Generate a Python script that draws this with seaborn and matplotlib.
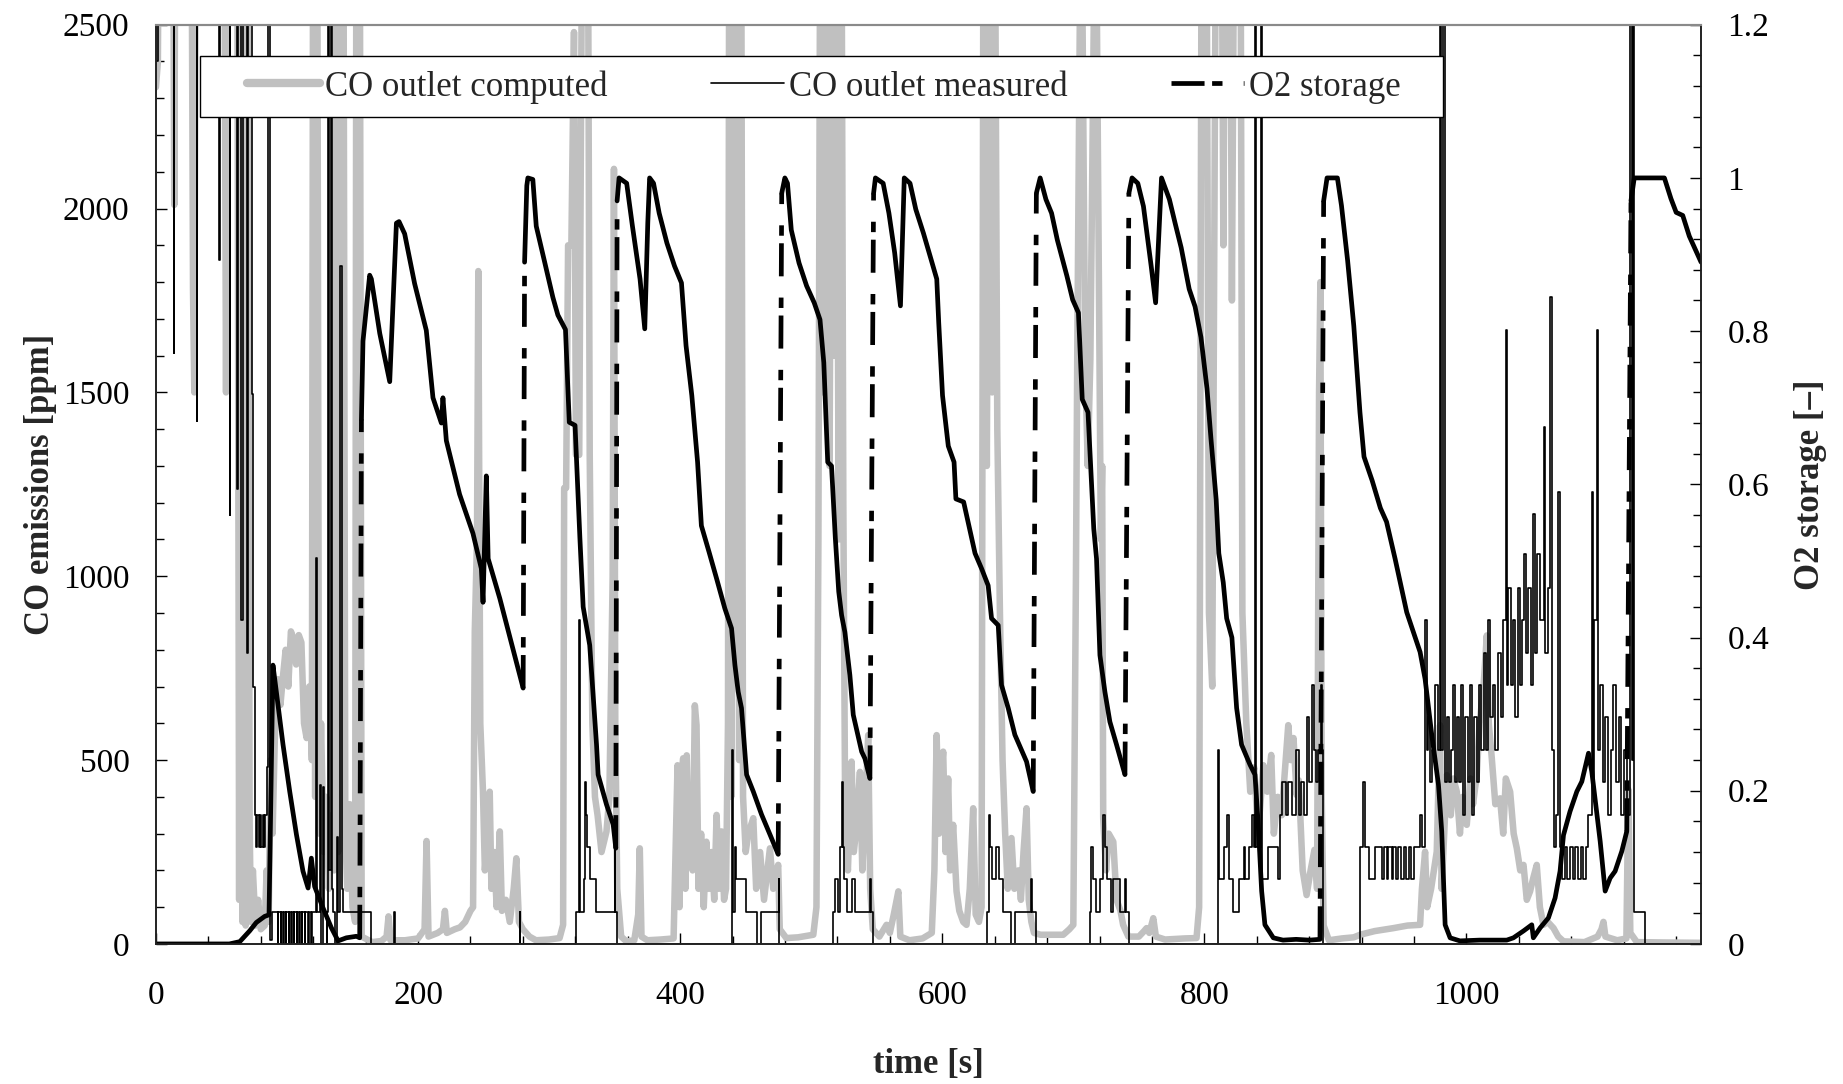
import matplotlib
matplotlib.use("Agg")
import matplotlib.pyplot as plt
from matplotlib.lines import Line2D
from matplotlib.patches import Rectangle
from matplotlib.ticker import MultipleLocator, FuncFormatter
import pandas as pd
import seaborn as sns

# ---------------- data (time [s], value) ----------------
# CO outlet computed [ppm]  (values above 2500 are off-scale)
co_computed = [
    (0, 2330), (1.5, 2400), (2.5, 3000), (13, 3000), (14, 2010), (15, 3000), (27, 3000), (28.3, 1780),
    (29.3, 1500), (30.5, 3000), (52, 3000), (53.5, 1500), (55, 3000), (62, 3000), (63.5, 120), (64.5, 3000),
    (66, 60), (67, 3000), (68.5, 50), (70, 3000), (71.5, 330), (72.5, 60), (74, 200), (76, 50), (78, 120),
    (80, 40), (83, 50), (84.5, 200), (86, 60), (87.5, 500), (89, 300), (91, 600), (93, 720), (95, 650),
    (97, 730), (99, 800), (101, 700), (103, 850), (105, 830), (107, 760), (109, 840), (111, 820), (113, 600),
    (115, 560), (117, 700), (119, 500), (120, 3000), (121.5, 400), (123, 3000), (124.5, 300), (126, 600),
    (128, 250), (130, 400), (132, 150), (134, 350), (136, 200), (137.5, 3000), (139, 250), (141, 3000),
    (143, 3000), (144.5, 300), (146, 150), (148, 380), (150, 100), (152, 60), (153, 3000), (155.5, 3000),
    (157, 20), (165, 5), (172, 8), (176, 20), (177.5, 75), (179, 10), (190, 10), (200, 15), (205, 40),
    (206.5, 280), (208, 20), (215, 30), (219, 40), (220.5, 90), (222, 30), (228, 40), (232, 45), (236, 60),
    (240, 90), (242, 100), (243.3, 850), (245, 1100), (246, 1830), (247.5, 600), (249.5, 420), (251, 200),
    (253, 300), (254.7, 414), (256, 150), (258, 250), (260, 100), (262.4, 306), (264, 90), (267, 120),
    (270, 60), (273, 150), (275, 233), (277, 60), (280, 40), (285, 20), (290, 10), (300, 12), (308, 16),
    (310.7, 52), (311.5, 1240), (313, 1240), (314.5, 1900), (317, 1900), (319, 2480), (320.5, 1330),
    (323, 1330), (325.5, 3000), (329.5, 3000), (331, 1330), (333, 600), (335, 400), (337, 350),
    (340, 250), (343.8, 306), (346, 400), (348.5, 1000), (349.5, 2108), (350.5, 600), (352, 150), (355, 20),
    (359, 7), (365, 10), (368, 80), (369.2, 260), (370.5, 20), (375, 10), (385, 12), (395, 15), (398, 486),
    (399.5, 100), (401, 450), (402.3, 505), (404, 150), (405, 513), (406.5, 250), (408, 400), (409.5, 200),
    (411.2, 649), (412.5, 595), (414, 150), (416, 300), (418, 100), (420, 278), (422, 150), (424, 250),
    (426, 120), (427.8, 351), (429.5, 150), (431.6, 306), (433.5, 120), (435, 150), (436.5, 600),
    (437.5, 3000), (439, 400), (440.5, 3000), (442, 800), (443.5, 3000), (445, 500), (446.5, 3000),
    (448, 400), (450, 250), (452, 300), (455.8, 342), (458, 150), (461, 250), (464, 120), (468.5, 260),
    (471, 150), (474.8, 215), (476, 40), (481, 16), (490, 18), (501.6, 25), (504, 100), (505.5, 1100),
    (507, 3000), (509, 1500), (510.5, 3000), (512, 1800), (514, 1300), (516, 3000), (517.5, 1600),
    (519, 3000), (521, 1100), (523, 3000), (524.5, 1200), (526, 300), (528, 200), (530.8, 496), (532.5, 250),
    (534, 300), (537.2, 468), (539, 200), (541, 350), (543.5, 568), (545, 150), (547, 40), (552, 20),
    (557.5, 52), (560, 30), (563, 80), (566.5, 143), (568, 20), (575, 10), (585, 15), (592, 30), (594, 200),
    (595.7, 568), (597.5, 300), (599, 450), (600.7, 523), (602.5, 250), (604.5, 450), (606, 200),
    (608.3, 324), (610.9, 143), (613, 90), (616, 60), (618.5, 52), (621, 150), (623.6, 369), (625.5, 80),
    (628, 60), (630, 100), (631.5, 3000), (634, 1300), (636, 3000), (638, 1500), (640, 3000), (642, 1400),
    (644, 900), (646, 500), (648, 300), (650, 150), (652.8, 288), (655, 150), (658, 200), (660, 120),
    (662, 250), (664.3, 369), (666, 120), (668, 60), (670, 30), (675, 25), (685, 25), (692.3, 25), (697, 40),
    (700, 52), (702, 1000), (703, 1600), (706, 3000), (709, 1590), (711, 1300), (713, 1590), (717, 3000),
    (720, 1550), (721, 1100), (722, 1300), (722.8, 342), (725, 200), (727, 300), (730.5, 278),
    (733, 120), (736, 90), (738, 52), (742, 20), (750, 20), (754, 35), (755.9, 43), (758, 30), (761, 70),
    (763, 20), (770, 12), (785, 15), (794, 16), (796, 100), (798, 3000), (801.5, 3000), (803.5, 900),
    (806, 700), (809, 3000), (813, 3000), (814.5, 1900), (816, 3000), (819.5, 3000), (821, 1750),
    (823, 3000), (827.5, 3000), (829, 900), (832, 600), (835, 414), (838, 480),
    (841, 300), (845, 486), (848, 414), (851, 514), (853, 300), (856, 400), (859, 350), (861, 450),
    (864, 595), (866, 500), (868, 560), (870.4, 405), (872, 445), (875, 200), (878, 133), (881, 199),
    (884, 256), (886, 150), (887.5, 1500), (888.5, 1800), (889.5, 400), (891, 50), (895, 10), (905, 15),
    (914, 18), (918.8, 25), (930, 35), (944.2, 43), (955, 50), (964.6, 52), (966, 150), (968.4, 251),
    (970, 100), (973, 150), (977.3, 251), (979.8, 595), (981, 150), (983, 300), (985, 459), (988, 350),
    (990, 450), (992.6, 414), (995, 300), (997, 400), (1000.2, 324), (1003, 450), (1005, 380), (1007.8, 459),
    (1010, 600), (1013, 700), (1015.5, 839), (1017, 600), (1019.3, 505), (1022, 380), (1025.6, 396),
    (1028, 300), (1030, 450), (1033.3, 414), (1036, 300), (1038.4, 260), (1041, 200), (1043.5, 215),
    (1046, 120), (1048.5, 143), (1051, 180), (1053.6, 215), (1056, 100), (1058.7, 52), (1062, 60),
    (1066.4, 43), (1070, 20), (1074, 7), (1090, 5), (1100, 20), (1103, 40), (1104.5, 60), (1106, 20),
    (1115, 10), (1122, 15), (1123.5, 420), (1125, 30), (1130, 5), (1150, 4), (1179, 3),
]

# CO outlet measured [ppm]  (analyser resolution ~88 ppm, stepped signal)
co_measured = [
    (0, 2400), (1.5, 3000), (13, 3000), (13.5, 1608), (14, 3000), (30.5, 3000), (31, 1422), (31.5, 3000),
    (48, 3000), (48.4, 1860), (48.8, 3000), (56, 3000), (56.4, 1167), (56.8, 3000), (60.5, 3000),
    (61.5, 1238), (62.3, 3000), (64.3, 3000), (65.1, 880), (66.3, 3000), (68.5, 3000), (69.5, 790),
    (70.5, 3000), (72.2, 3000), (73, 1495), (74.2, 700), (75.5, 352), (76.5, 264), (77.5, 352), (78.5, 264),
    (79.5, 352), (80.5, 264), (81.5, 352), (82.5, 264), (83.5, 352), (84.5, 480), (85.3, 3000), (86.5, 3000),
    (87.2, 10), (88.2, 88), (93.0, 88), (93.25, 0), (93.5, 88), (95.0, 88), (95.25, 0), (95.5, 88),
    (97.0, 88), (97.25, 0), (97.5, 88), (99.0, 88), (99.25, 0), (99.5, 88), (101.0, 88), (101.25, 0),
    (101.5, 88), (103.0, 88), (103.25, 0), (103.5, 88), (105.0, 88), (105.25, 0), (105.5, 88), (107.2, 88),
    (107.45, 0), (107.7, 88), (109.2, 88), (109.45, 0), (109.7, 88), (111.2, 88), (111.45, 0), (111.7, 88),
    (113.5, 88), (113.75, 0), (114, 88), (116, 88), (116.25, 0), (116.5, 88), (118.3, 88), (118.55, 0),
    (118.8, 88), (121.5, 88), (122.5, 1050), (123.2, 88), (124.3, 88), (125, 432), (125.7, 88), (126.3, 0),
    (127.3, 428), (128, 88), (129.5, 88), (130.2, 0), (130.8, 88), (131.4, 3000), (132, 200), (133.4, 3000),
    (134, 150), (135, 88), (136.3, 0), (137.9, 292), (139, 88), (139.8, 88), (140.8, 1845), (141.8, 150),
    (142.5, 88), (163.6, 88), (164, 0), (181.5, 0), (181.8, 88), (182.2, 0), (277.3, 0), (277.6, 88),
    (278, 0), (320.6, 0), (320.9, 88), (322.5, 88), (322.9, 880), (323.3, 88), (326, 88), (326.5, 176),
    (327.3, 440), (328, 352), (329, 264), (331, 264), (331.5, 176), (335.5, 176), (336, 88), (349.8, 88),
    (350.2, 264), (350.6, 88), (351.8, 88), (352.1, 0), (439, 0), (439.5, 528), (440.5, 88), (441.5, 264),
    (442.3, 176), (449.5, 176), (450, 88), (458.5, 88), (458.8, 0), (461.5, 0), (461.8, 88), (475, 88),
    (475.4, 176), (475.8, 0), (516.5, 0), (516.8, 88), (517.8, 176), (520, 176), (520.5, 88), (521.8, 264),
    (523.2, 440), (524, 264), (525, 176), (527, 176), (527.5, 88), (531, 88), (531.5, 176), (533, 176),
    (533.5, 88), (544, 88), (544.5, 176), (545.5, 88), (547, 88), (547.3, 0), (633.5, 0), (633.8, 88),
    (635.5, 352), (636.5, 264), (638, 176), (641, 264), (643, 176), (646.5, 88), (652, 88), (652.3, 0),
    (655, 0), (655.3, 88), (667.5, 88), (668, 176), (668.5, 88), (671.5, 88), (671.8, 0), (712.3, 0),
    (712.6, 88), (713.5, 264), (715, 176), (717, 88), (719.5, 88), (720, 176), (722.5, 176), (722.8, 352),
    (724, 264), (726, 176), (729, 88), (730.5, 176), (735, 176), (735.5, 88), (739, 88), (739.3, 176),
    (740, 88), (741.9, 88), (742.2, 0), (810.3, 0), (810.6, 528), (811.5, 176), (814, 176), (815, 264),
    (817, 352), (818.5, 176), (821, 176), (821.5, 88), (826, 88), (826.5, 176), (830, 264), (831, 176),
    (834, 264), (836, 352), (837.5, 264), (838.6, 3000), (839.5, 264), (843.3, 3000), (844, 176), (848, 176),
    (848.5, 264), (855, 264), (856, 176), (858, 352), (859.5, 440), (862, 352), (864, 440), (867, 352),
    (870, 528), (872, 352), (874, 440), (876, 352), (878, 616), (880, 440), (882, 704), (883.5, 528),
    (885, 440), (887, 528), (889, 704), (890, 528), (890.8, 0), (917, 0), (918.8, 264), (920, 264),
    (921.3, 440), (922.5, 264), (925, 264), (925.5, 176), (930, 176), (930.5, 264), (935, 264), (935.5, 176),
    (937, 264), (939, 176), (940, 264), (943, 176), (944, 264), (946, 176), (948, 264), (950, 176),
    (952, 264), (954, 176), (956, 264), (958, 176), (960, 264), (963, 264), (964.6, 352), (966, 264),
    (968.4, 880), (969.5, 528), (971, 616), (972.5, 440), (974, 528), (976, 704), (978, 528), (979.7, 3000),
    (980.5, 528), (982.2, 3000), (983.5, 440), (985, 616), (986.5, 440), (988, 528), (989.5, 704), (991, 440),
    (992.5, 616), (994, 440), (996, 704), (997.5, 352), (999, 616), (1001, 440), (1002.5, 704), (1004, 352),
    (1006, 616), (1008, 440), (1009.5, 704), (1011, 528), (1013, 792), (1015, 528), (1016.5, 880),
    (1018, 616), (1020, 704), (1022, 528), (1024, 792), (1026, 616), (1028, 880), (1029.8, 1670),
    (1030.7, 704), (1032, 968), (1034, 704), (1035.5, 880), (1037, 616), (1039, 968), (1040.5, 704),
    (1042, 880), (1044, 1060), (1045.5, 792), (1047, 968), (1049, 704), (1050.8, 1170), (1052, 792),
    (1054, 1060), (1056, 880), (1058.9, 1405), (1060, 792), (1062, 968), (1064, 1760), (1065.5, 528),
    (1067, 264), (1068, 352), (1069.9, 1230), (1071, 264), (1073, 176), (1075, 264), (1077, 176),
    (1079, 264), (1081, 176), (1083, 264), (1085, 176), (1087, 264), (1089, 176), (1091, 264), (1093, 352),
    (1095.5, 1230), (1096.5, 440), (1097.5, 880), (1099.6, 1670), (1100.5, 528), (1102, 704), (1104, 440),
    (1106, 616), (1108, 352), (1110, 528), (1112, 704), (1114, 440), (1116, 616), (1118, 352), (1120, 528),
    (1122.3, 352), (1124.3, 352), (1124.8, 3000), (1126, 500), (1127.2, 3000), (1127.8, 88), (1136, 88),
    (1136.3, 0), (1179, 0),
]

# O2 storage [-]
o2_storage = [
    (0, 0), (20, 0), (40, 0), (56, 0), (64, 0.003), (71.5, 0.017), (76.6, 0.028), (83, 0.036),
    (86.3, 0.038), (89.3, 0.364), (91.9, 0.329), (97, 0.26), (102.1, 0.199), (107.2, 0.143), (112.2, 0.095),
    (116.1, 0.073), (118.6, 0.112), (121.1, 0.075), (127.5, 0.047), (133.9, 0.021), (139, 0.004),
    (145.3, 0.008), (153, 0.01), (155.5, 0.008), (156.8, 0.685), (158, 0.787), (163.1, 0.873),
    (164.4, 0.868), (170.8, 0.797), (178.4, 0.734), (183.5, 0.941), (185.5, 0.943), (189.8, 0.927),
    (197.4, 0.862), (206.3, 0.801), (211.4, 0.713), (217.8, 0.68), (219, 0.713), (221.6, 0.657),
    (231.7, 0.587), (241.9, 0.536), (248.3, 0.49), (249.6, 0.446), (252.1, 0.611), (253.5, 0.503),
    (262.4, 0.451), (280.2, 0.334), (281.3, 0.89), (283, 0.99), (283.8, 1.0), (287.6, 0.998), (290.2, 0.937),
    (296.5, 0.891), (302.9, 0.844), (306.7, 0.821), (312.5, 0.802), (315.4, 0.681), (319.8, 0.677),
    (323.5, 0.53), (326, 0.44), (331, 0.39), (336.2, 0.26), (337.4, 0.221), (343.8, 0.182), (348.9, 0.156),
    (350.9, 0.125), (351.9, 0.97), (353.4, 1.0), (359.2, 0.993), (363.6, 0.937), (369.4, 0.868), (373, 0.803),
    (375.3, 0.941), (376.7, 1.0), (379.7, 0.993), (384, 0.954), (389.9, 0.915), (395.7, 0.885), (401, 0.863),
    (404.5, 0.781), (408.9, 0.716), (413.3, 0.629), (416.2, 0.546), (422, 0.512), (427.8, 0.477),
    (434.1, 0.438), (439.2, 0.412), (441.8, 0.364), (444.3, 0.329), (446.8, 0.308), (450.7, 0.221),
    (455.8, 0.199), (462.1, 0.169), (468.5, 0.143), (474.8, 0.117), (477.5, 0.98), (479.9, 1.0),
    (481.9, 0.993), (484.8, 0.932), (490.7, 0.889), (496.5, 0.859), (502.3, 0.837), (506.7, 0.815),
    (509.6, 0.759), (512.6, 0.629), (515.5, 0.624), (518.4, 0.53), (521, 0.46), (523.2, 0.429),
    (525.7, 0.407), (529.5, 0.351), (532.1, 0.299), (538.5, 0.251), (541, 0.242), (544.8, 0.216),
    (547.6, 0.98), (549, 1.0), (554.9, 0.993), (559.3, 0.954), (563.7, 0.902), (568.1, 0.833), (571, 1.0),
    (575.4, 0.993), (579.8, 0.959), (585.6, 0.928), (591.4, 0.894), (595.8, 0.868), (597.3, 0.811),
    (600.2, 0.716), (604.6, 0.65), (609, 0.629), (610.4, 0.581), (616.3, 0.577), (625, 0.51), (630, 0.49),
    (635, 0.468), (637.6, 0.425), (642.7, 0.416), (645.2, 0.338), (650.3, 0.308), (655.4, 0.273),
    (664.3, 0.238), (669.4, 0.199), (671.8, 0.98), (674.7, 1.0), (679.1, 0.972), (683.4, 0.954),
    (687.8, 0.919), (695.1, 0.872), (699.5, 0.841), (703.9, 0.824), (706.8, 0.711), (711.2, 0.694),
    (715.6, 0.542), (717.7, 0.503), (720.3, 0.377), (724.1, 0.329), (727.9, 0.29), (733, 0.26),
    (739.4, 0.221), (742.4, 0.98), (744.8, 1.0), (749.2, 0.993), (753.5, 0.963), (759.4, 0.885),
    (762.8, 0.837), (767.3, 1.0), (773.3, 0.972), (777.8, 0.94), (782.3, 0.909), (788.4, 0.855),
    (792.9, 0.832), (797.4, 0.792), (802, 0.725), (805, 0.66), (809, 0.58), (811, 0.51), (814.4, 0.472),
    (817, 0.425), (821, 0.4), (824.6, 0.308), (828.4, 0.26), (834.8, 0.234), (838.6, 0.221), (841.1, 0.156),
    (843.7, 0.069), (846.2, 0.025), (852.6, 0.008), (860, 0.005), (870, 0.006), (880, 0.005), (888.2, 0.006),
    (891, 0.97), (893.6, 1.0), (901.5, 1.0), (904.6, 0.964), (909.3, 0.892), (914, 0.807), (918.7, 0.694),
    (921.8, 0.636), (928, 0.605), (934.3, 0.569), (939, 0.551), (945.5, 0.503), (954.4, 0.433),
    (964.6, 0.381), (968.4, 0.346), (973.5, 0.273), (978.6, 0.208), (981.1, 0.147), (983.7, 0.025),
    (987.5, 0.008), (995, 0.004), (1010, 0.005), (1030.7, 0.005), (1035.8, 0.008), (1043.5, 0.017),
    (1049.8, 0.025), (1051, 0.008), (1056.2, 0.021), (1062.5, 0.034), (1067.6, 0.06), (1071.4, 0.095),
    (1074, 0.142), (1079, 0.173), (1084.2, 0.199), (1088, 0.212), (1093.1, 0.249), (1095.6, 0.225),
    (1102, 0.134), (1105.8, 0.069), (1109.6, 0.086), (1113.4, 0.095), (1118.5, 0.121), (1122.3, 0.147),
    (1125.5, 0.97), (1128, 1.0), (1140, 1.0), (1151, 1.0), (1156, 0.973), (1160, 0.955), (1165, 0.951),
    (1170, 0.924), (1179, 0.89),
]

legend_labels = ["CO outlet computed", "CO outlet measured", "O2 storage"]

# ---------------- styling ----------------
GRAY = "#C0C0C0"
DASHDOT = (7, 1.6, 2.2, 4.5)

sns.set_theme(style="white")
plt.rcParams["font.family"] = ["Liberation Serif", "DejaVu Serif"]

fig = plt.figure(figsize=(18.43, 10.84), dpi=100)
ax = fig.add_axes([0.0846, 0.1292, 0.923 - 0.0846, 0.9772 - 0.1292])
ax2 = ax.twinx()

comp_df = pd.DataFrame(co_computed, columns=["t", "v"])
meas_df = pd.DataFrame(co_measured, columns=["t", "v"])
o2_df = pd.DataFrame(o2_storage, columns=["t", "v"])

sns.lineplot(data=comp_df, x="t", y="v", ax=ax, color=GRAY, linewidth=4.7,
             estimator=None, sort=False, solid_joinstyle="round")
sns.lineplot(data=meas_df, x="t", y="v", ax=ax, color="black", linewidth=1.2,
             estimator=None, sort=False, drawstyle="steps-post")

# O2 storage: smooth parts solid, sudden regeneration jumps dash-dot (as in the original)
rows = []
vals = o2_df["v"].tolist()
ts = o2_df["t"].tolist()
piece = 0
start = 0
for i in range(len(vals) - 1):
    if vals[i + 1] - vals[i] > 0.4:
        for k in range(start, i + 1):
            rows.append((ts[k], vals[k], f"c{piece}", "curve"))
        rows.append((ts[i], vals[i], f"j{i}", "jump"))
        rows.append((ts[i + 1], vals[i + 1], f"j{i}", "jump"))
        piece += 1
        start = i + 1
for k in range(start, len(vals)):
    rows.append((ts[k], vals[k], f"c{piece}", "curve"))
seg_df = pd.DataFrame(rows, columns=["t", "v", "unit", "kind"])
sns.lineplot(data=seg_df, x="t", y="v", units="unit", style="kind",
             dashes={"curve": "", "jump": DASHDOT}, estimator=None, sort=False,
             color="black", linewidth=3.4, legend=False, ax=ax2)

# ---------------- axes ----------------
ax.set_xlim(0, 1179)
ax.set_ylim(0, 2500)
ax2.set_ylim(0, 1.2)
ax.xaxis.set_major_locator(MultipleLocator(200))
ax.xaxis.set_minor_locator(MultipleLocator(40))
ax.yaxis.set_major_locator(MultipleLocator(500))
ax.yaxis.set_minor_locator(MultipleLocator(100))
ax2.yaxis.set_major_locator(MultipleLocator(0.2))
ax2.yaxis.set_minor_locator(MultipleLocator(0.04))
ax2.yaxis.set_major_formatter(FuncFormatter(lambda v, p: f"{v:g}"))

ax.tick_params(axis="both", which="both", direction="in", colors="black",
               labelsize=24, width=1.0)
ax.tick_params(axis="both", which="major", length=8)
ax.tick_params(axis="both", which="minor", length=6)
ax.tick_params(axis="y", which="both", pad=19, left=True)
ax.tick_params(axis="x", which="both", pad=26, bottom=True)
ax2.tick_params(axis="y", which="both", direction="in", colors="black",
                labelsize=24, width=1.0, pad=19, right=True)
ax2.tick_params(axis="y", which="major", length=8)
ax2.tick_params(axis="y", which="minor", length=6)

for a in (ax, ax2):
    for side in ("left", "right", "bottom"):
        a.spines[side].set_color("#222222")
        a.spines[side].set_linewidth(1.2)
    a.spines["top"].set_color("#8a8a8a")
    a.spines["top"].set_linewidth(1.5)

ax.set_xlabel("time [s]", fontsize=25, fontweight="bold", labelpad=27)
ax.set_ylabel("CO emissions [ppm]", fontsize=25, fontweight="bold", labelpad=4)
ax2.set_ylabel("O2 storage [–]", fontsize=25, fontweight="bold", labelpad=18)

# ---------------- legend ----------------
box = Rectangle((0.0284, 0.8992), 0.8046, 0.0664, transform=ax2.transAxes,
                facecolor="white", edgecolor="black", linewidth=1.0, zorder=10)
ax2.add_patch(box)
handles = [
    Line2D([], [], color=GRAY, linewidth=6, solid_capstyle="round"),
    Line2D([], [], color="black", linewidth=1.2),
    Line2D([], [], color="black", linewidth=3.4, linestyle=(0, DASHDOT)),
]
pad_l = 47 / 1545
pad_r = 42 / 1545
leg = ax2.legend(handles, legend_labels, ncol=3, mode="expand", loc="center left",
                 bbox_to_anchor=(0.0284 + pad_l, 0.8992, 0.8046 - pad_l - pad_r, 0.0664),
                 frameon=False, fontsize=25, handlelength=2.1, handletextpad=0.15,
                 borderaxespad=0, borderpad=0)
leg.set_zorder(11)

fig.savefig("out.png", dpi=100)
